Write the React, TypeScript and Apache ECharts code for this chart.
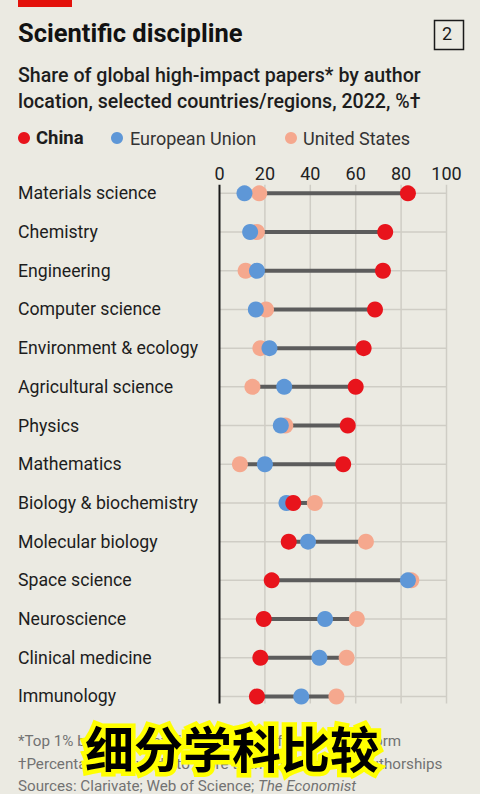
import React, { useEffect, useRef } from "react";
import * as echarts from "echarts";

const categories = [
  "Materials science",
  "Chemistry",
  "Engineering",
  "Computer science",
  "Environment & ecology",
  "Agricultural science",
  "Physics",
  "Mathematics",
  "Biology & biochemistry",
  "Molecular biology",
  "Space science",
  "Neuroscience",
  "Clinical medicine",
  "Immunology",
];
const china = [83, 73, 72, 68.5, 63.5, 60, 56.5, 54.5, 32.5, 30.5, 23, 19.5, 18, 16.5];
const eu = [11, 13.5, 16.5, 16, 22, 28.5, 27, 20, 29.5, 39, 83, 46.5, 44, 36];
const us = [17.5, 16.5, 11.5, 20.5, 18, 14.5, 29, 9, 42, 64.5, 84.5, 60.5, 56, 51.5];
const xTicks = [0, 20, 40, 60, 80, 100];

const FONT = "Roboto, 'Noto Sans', sans-serif";
const BG = "#ebeae2";
const RED = "#e8141c";
const BLUE = "#5e97d7";
const PINK = "#f5a88e";
const FOOT = "#727272";

export default function App() {
  const ref = useRef<HTMLDivElement>(null);
  useEffect(() => {
    if (!ref.current) return;
    const chart = echarts.init(ref.current, undefined, { renderer: "svg" });
    const rows = categories.map((_, i) => i);
    const ranges = categories.map((_, i) => [
      i,
      Math.min(china[i], eu[i], us[i]),
      Math.max(china[i], eu[i], us[i]),
    ]);
    const option: any = {
      animation: false,
      backgroundColor: BG,
      textStyle: { fontFamily: FONT },
      grid: { left: 219.5, right: 33.5, top: 174, height: 541.8 },
      xAxis: {
        type: "value",
        position: "top",
        min: 0,
        max: 100,
        interval: 20,
        axisLine: { show: false },
        axisTick: { show: false },
        splitLine: { show: false },
        axisLabel: { color: "#222", fontSize: 18, fontFamily: FONT, margin: -8 },
      },
      yAxis: {
        type: "category",
        inverse: true,
        data: categories,
        axisLine: { show: false },
        axisTick: { show: false },
        splitLine: { show: false },
        axisLabel: {
          align: "left",
          margin: 201.5,
          color: "#1d1d1d",
          fontSize: 17.7,
          fontFamily: FONT,
        },
      },
      series: [
        {
          type: "custom",
          z: 1,
          silent: true,
          data: xTicks.map((v) => [v]),
          renderItem: (params: any, api: any) => {
            const v = api.value(0);
            const band = api.size([0, 1])[1];
            const top = api.coord([v, 0]);
            const bot = api.coord([v, categories.length - 1]);
            return {
              type: "line",
              shape: { x1: top[0], y1: top[1] - 0.22 * band, x2: bot[0], y2: bot[1] + 0.18 * band },
              style: { stroke: v === 0 ? "#1a1a1a" : "#cfcdc5", lineWidth: v === 0 ? 2 : 1.5 },
              z2: v === 0 ? 5 : 1,
            };
          },
        },
        {
          type: "custom",
          z: 1,
          silent: true,
          data: rows.map((i) => [i]),
          renderItem: (params: any, api: any) => {
            const i = api.value(0);
            const a = api.coord([0, i]);
            const b = api.coord([100, i]);
            return {
              type: "line",
              shape: { x1: a[0], y1: a[1], x2: b[0], y2: b[1] },
              style: { stroke: "#cfcdc5", lineWidth: 1.5 },
            };
          },
        },
        {
          type: "custom",
          z: 2,
          silent: true,
          data: ranges,
          renderItem: (params: any, api: any) => {
            const i = api.value(0);
            const a = api.coord([api.value(1), i]);
            const b = api.coord([api.value(2), i]);
            return {
              type: "line",
              shape: { x1: a[0], y1: a[1], x2: b[0], y2: b[1] },
              style: { stroke: "#5c5c5c", lineWidth: 4 },
            };
          },
        },
        {
          name: "United States",
          type: "scatter",
          z: 3,
          symbolSize: 16,
          itemStyle: { color: PINK, opacity: 1 },
          data: us.map((v, i) => [v, i]),
        },
        {
          name: "European Union",
          type: "scatter",
          z: 4,
          symbolSize: 16,
          itemStyle: { color: BLUE, opacity: 1 },
          data: eu.map((v, i) => [v, i]),
        },
        {
          name: "China",
          type: "scatter",
          z: 5,
          symbolSize: 16,
          itemStyle: { color: RED, opacity: 1 },
          data: china.map((v, i) => [v, i]),
        },
      ],
      graphic: [
        { type: "rect", left: 18, top: 0, shape: { width: 54, height: 7 }, style: { fill: "#e3120b" } },
        {
          type: "text",
          left: 18,
          top: 20,
          style: { text: "Scientific discipline", fill: "#121212", font: `bold 25.5px ${FONT}` },
        },
        {
          type: "rect",
          left: 432,
          top: 18,
          shape: { width: 29, height: 29 },
          style: { fill: "none", stroke: "#1a1a1a", lineWidth: 1.5 },
        },
        {
          type: "text",
          x: 447,
          y: 33,
          style: { text: "2", fill: "#1a1a1a", font: `18px ${FONT}`, align: "center", verticalAlign: "middle" },
        },
        {
          type: "text",
          left: 18,
          top: 62,
          style: {
            text: "Share of global high-impact papers* by author\nlocation, selected countries/regions, 2022, %\u2020",
            fill: "#1d1d1d",
            font: `500 19.6px ${FONT}`,
            lineHeight: 26,
          },
        },
        { type: "circle", shape: { cx: 24, cy: 138, r: 6 }, style: { fill: RED } },
        {
          type: "text",
          x: 36,
          y: 138,
          style: { text: "China", fill: "#1d1d1d", font: `bold 18.5px ${FONT}`, verticalAlign: "middle" },
        },
        { type: "circle", shape: { cx: 117, cy: 138, r: 6 }, style: { fill: BLUE } },
        {
          type: "text",
          x: 130,
          y: 138,
          style: { text: "European Union", fill: "#333", font: `18px ${FONT}`, verticalAlign: "middle" },
        },
        { type: "circle", shape: { cx: 291, cy: 138, r: 6 }, style: { fill: PINK } },
        {
          type: "text",
          x: 303,
          y: 138,
          style: { text: "United States", fill: "#333", font: `18px ${FONT}`, verticalAlign: "middle" },
        },
        {
          type: "text",
          x: 18,
          y: 733,
          style: {
            text: "*Top 1% by number of citations, Web of Science platform",
            fill: FOOT,
            font: `15.2px ${FONT}`,
            verticalAlign: "alphabetic",
          },
        },
        {
          type: "text",
          x: 18,
          y: 756,
          style: {
            text: "\u2020Percentages may add to more than 100 due to co-authorships",
            fill: FOOT,
            font: `15.2px ${FONT}`,
            verticalAlign: "alphabetic",
          },
        },
        {
          type: "text",
          x: 18,
          y: 778,
          style: {
            text: "Sources: Clarivate; Web of Science; {i|The Economist}",
            fill: FOOT,
            font: `15.2px ${FONT}`,
            verticalAlign: "alphabetic",
            rich: { i: { fontStyle: "italic", fontSize: 15.2, fontFamily: FONT, fill: FOOT } },
          },
        },
        {
          type: "text",
          x: 232,
          y: 746,
          z: 100,
          style: {
            text: "细分学科比较",
            fill: "#ffff00",
            stroke: "#ffff00",
            lineWidth: 9,
            lineJoin: "round",
            font: `bold 49px 'Noto Sans CJK SC'`,
            align: "center",
            verticalAlign: "middle",
          },
        },
        {
          type: "text",
          x: 232,
          y: 746,
          z: 101,
          style: {
            text: "细分学科比较",
            fill: "#000",
            font: `bold 49px 'Noto Sans CJK SC'`,
            align: "center",
            verticalAlign: "middle",
          },
        },
      ],
    };
    chart.setOption(option);
    return () => chart.dispose();
  }, []);
  return (
    <div
      ref={ref}
      style={{ position: "absolute", left: 0, top: 0, width: 480, height: 794, background: BG }}
    />
  );
}
